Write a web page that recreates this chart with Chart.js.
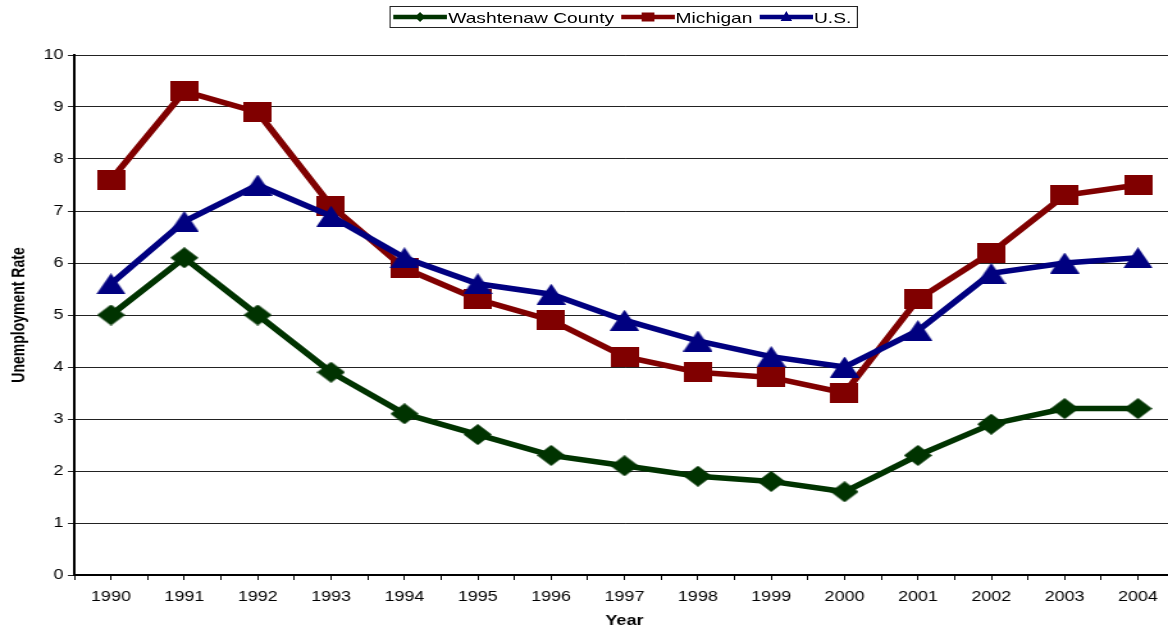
<!DOCTYPE html>
<html>
<head>
<meta charset="utf-8">
<script src="https://cdn.jsdelivr.net/npm/chart.js@4/dist/chart.umd.min.js"></script>
<style>
  html, body { margin: 0; padding: 0; background: #fff; overflow: hidden; width: 1168px; height: 630px; }
  #wrap { position: absolute; left: 0; top: 0; width: 920px; height: 630px;
          transform: scaleX(1.2807); transform-origin: 0 0; }
  #c { position: absolute; left: 0; top: 0; }
  #legend { position: absolute; left: 304px; top: 6px; width: 366px; height: 22px;
            border: 1px solid #222; box-sizing: border-box; display: flex; align-items: center;
            font-family: "Liberation Sans", Arial, sans-serif; font-size: 15px; color: #000; padding-left: 2px; }
  .item { display: flex; align-items: center; margin-right: 5px; white-space: nowrap; }
  .item svg { margin-right: 1px; }
</style>
</head>
<body>
<div id="wrap">
  <canvas id="c" width="920" height="630"></canvas>
  <div id="legend"></div>
</div>
<script>
const years = ['1990','1991','1992','1993','1994','1995','1996','1997','1998','1999','2000','2001','2002','2003','2004'];
const washtenaw = [5.0, 6.1, 5.0, 3.9, 3.1, 2.7, 2.3, 2.1, 1.9, 1.8, 1.6, 2.3, 2.9, 3.2, 3.2];
const michigan  = [7.6, 9.3, 8.9, 7.1, 5.9, 5.3, 4.9, 4.2, 3.9, 3.8, 3.5, 5.3, 6.2, 7.3, 7.5];
const us        = [5.6, 6.8, 7.5, 6.9, 6.1, 5.6, 5.4, 4.9, 4.5, 4.2, 4.0, 4.7, 5.8, 6.0, 6.1];
const seriesNames = ['Washtenaw County', 'Michigan', 'U.S.'];
const seriesColors = ['#003300', '#800000', '#000080'];
const seriesShapes = ['diamond', 'square', 'triangle'];

function shapePath(ctx, shape, w, h) {
  ctx.beginPath();
  if (shape === 'diamond') {
    ctx.moveTo(w/2, 0); ctx.lineTo(w, h/2); ctx.lineTo(w/2, h); ctx.lineTo(0, h/2);
  } else if (shape === 'square') {
    ctx.rect(0, 0, w, h);
  } else {
    ctx.moveTo(w/2, 0); ctx.lineTo(w, h); ctx.lineTo(0, h);
  }
  ctx.closePath();
}
function makeMarker(shape, color, w, h) {
  const cv = document.createElement('canvas');
  cv.width = w; cv.height = h;
  const ctx = cv.getContext('2d');
  ctx.fillStyle = color;
  shapePath(ctx, shape, w, h);
  ctx.fill();
  return cv;
}
const markerSize = { diamond: [22, 21], square: [22, 20], triangle: [23, 21] };

const allValues = [washtenaw, michigan, us];
const datasets = allValues.map((vals, k) => ({
  label: seriesNames[k],
  data: vals.map((v, i) => ({ x: i, y: v })),
  borderColor: seriesColors[k],
  backgroundColor: seriesColors[k],
  borderWidth: 5.5,
  pointStyle: makeMarker(seriesShapes[k], seriesColors[k], markerSize[seriesShapes[k]][0], markerSize[seriesShapes[k]][1]),
  tension: 0,
  clip: false,
  order: 2 - k
}));

// HTML legend
const legendEl = document.getElementById('legend');
const legMarker = { diamond: [8, 10], square: [10, 9], triangle: [9, 10] };
seriesNames.forEach((name, k) => {
  const shape = seriesShapes[k];
  const [mw, mh] = legMarker[shape];
  const W = 42, H = 12;
  let path;
  const cx = W/2, cy = H/2;
  if (shape === 'diamond') path = `M${cx} ${cy-mh/2} L${cx+mw/2} ${cy} L${cx} ${cy+mh/2} L${cx-mw/2} ${cy} Z`;
  else if (shape === 'square') path = `M${cx-mw/2} ${cy-mh/2} h${mw} v${mh} h${-mw} Z`;
  else path = `M${cx} ${cy-mh/2-1} L${cx+mw/2} ${cy+mh/2-1} L${cx-mw/2} ${cy+mh/2-1} Z`;
  const div = document.createElement('div');
  div.className = 'item';
  div.innerHTML = `<svg width="${W}" height="${H}"><line x1="0" y1="${cy}" x2="${W}" y2="${cy}" stroke="${seriesColors[k]}" stroke-width="4.5"/><path d="${path}" fill="${seriesColors[k]}"/></svg><span>${name}</span>`;
  legendEl.appendChild(div);
});

Chart.defaults.font.family = '"Liberation Sans", Arial, sans-serif';
Chart.defaults.color = '#000';

new Chart(document.getElementById('c'), {
  type: 'line',
  data: { datasets },
  options: {
    responsive: false,
    animation: false,
    layout: { autoPadding: false, padding: { top: 55, right: 2.8, left: 0, bottom: 0 } },
    plugins: { legend: { display: false }, tooltip: { enabled: false } },
    scales: {
      x: {
        type: 'linear',
        min: -0.5, max: 14.5,
        afterFit: s => { s.height = 55; s.paddingLeft = 0; s.paddingRight = 0; },
        afterBuildTicks: s => {
          const t = [];
          for (let v = -0.5; v <= 14.5001; v += 0.5) t.push({ value: v });
          s.ticks = t;
        },
        ticks: {
          autoSkip: false, maxRotation: 0, padding: 9,
          font: { size: 14 },
          callback: v => (Number.isInteger(v) ? years[v] : '')
        },
        grid: { drawOnChartArea: false, drawTicks: true, tickLength: 5, color: '#000', lineWidth: 1 },
        border: { display: true, color: '#000', width: 2 },
        title: { display: true, text: 'Year', font: { size: 14, weight: 'bold' }, padding: { top: 2, bottom: 0 } }
      },
      y: {
        min: 0, max: 10,
        afterFit: s => { s.width = 58; s.paddingTop = 0; s.paddingBottom = 0; },
        ticks: { stepSize: 1, padding: 3.5, font: { size: 14 } },
        grid: { color: '#222', lineWidth: 1, tickLength: 5 },
        border: { display: true, color: '#000', width: 2 },
        title: { display: true, text: 'Unemployment Rate', font: { size: 14, weight: 'bold' }, padding: { top: 7, bottom: 0 } }
      }
    }
  }
});
</script>
</body>
</html>
